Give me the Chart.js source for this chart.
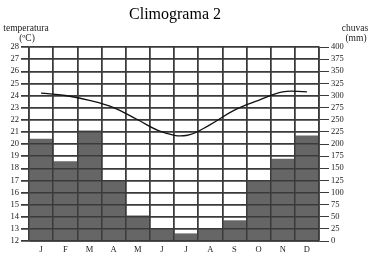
<!DOCTYPE html>
<html>
<head>
<meta charset="utf-8">
<script src="https://cdn.jsdelivr.net/npm/chart.js@4"></script>
<style>
  body { margin: 0; background: #fff; }
  #wrap { width: 370px; height: 257px; }
</style>
</head>
<body>
<div id="wrap"><canvas id="climo"></canvas></div>
<script>
const months = ['J', 'F', 'M', 'A', 'M', 'J', 'J', 'A', 'S', 'O', 'N', 'D'];
const chuvas = [210, 164, 227, 124, 52, 26, 15, 26, 42, 125, 169, 217];   // mm
const temperatura = [24.2, 24.0, 23.6, 23.0, 22.0, 21.0, 20.7, 21.6, 22.8, 23.6, 24.3, 24.3]; // °C
const tempTicks = [12, 28, 1];   // min, max, step
const rainTicks = [0, 400, 25];

const serif = '"Liberation Serif", "Times New Roman", serif';
const gridColor = '#3a3a3a';

// redraw the grid over the bars, like in the printed chart
const gridOnTop = {
    id: 'gridOnTop',
    afterDatasetDraw(chart, args) {
        if (args.index !== 1) return;
        chart.scales.x.drawGrid(chart.chartArea);
        chart.scales.y.drawGrid(chart.chartArea);
    }
};

// title and axis names
const labels = {
    id: 'labels',
    afterDraw(chart) {
        const ctx = chart.ctx;
        ctx.save();
        ctx.fillStyle = '#000';
        ctx.textAlign = 'center';
        ctx.textBaseline = 'middle';
        ctx.font = '16px ' + serif;
        ctx.fillText('Climograma 2', 175, 15);
        ctx.font = '9.5px ' + serif;
        ctx.fillStyle = '#222';
        ctx.fillText('temperatura', 26, 28);
        ctx.fillText('(ºC)', 27, 38);
        ctx.fillText('chuvas', 355, 28);
        ctx.fillText('(mm)', 356, 38);
        ctx.restore();
    }
};

function initializeChart() {
    const ctx = document.getElementById('climo').getContext('2d');
    new Chart(ctx, {
        data: {
            labels: months,
            datasets: [{
                type: 'line',
                data: temperatura,
                yAxisID: 'y',
                borderColor: '#111',
                borderWidth: 1.3,
                pointRadius: 0,
                tension: 0.4,
                order: 0
            }, {
                type: 'bar',
                data: chuvas,
                yAxisID: 'y2',
                backgroundColor: '#666666',
                barPercentage: 1,
                categoryPercentage: 1,
                order: 1
            }]
        },
        plugins: [gridOnTop, labels],
        options: {
            responsive: true,
            maintainAspectRatio: false,
            animation: false,
            layout: { padding: { top: 47, left: 0, right: 0, bottom: 0 } },
            plugins: { legend: { display: false }, tooltip: { enabled: false } },
            scales: {
                x: {
                    afterFit(s) { s.height = 16; },
                    grid: { color: gridColor, lineWidth: 1.5, drawTicks: false },
                    border: { color: gridColor, width: 1.5 },
                    ticks: { color: '#222', font: { family: serif, size: 8.5 }, padding: 4, maxRotation: 0 }
                },
                y: {
                    position: 'left',
                    min: tempTicks[0], max: tempTicks[1],
                    afterFit(s) { s.width = 29; },
                    grid: { color: gridColor, lineWidth: 1.5, tickLength: 8 },
                    border: { color: gridColor, width: 1.5 },
                    ticks: { stepSize: tempTicks[2], autoSkip: false, color: '#222', font: { family: serif, size: 8.5 }, padding: 2 }
                },
                y2: {
                    position: 'right',
                    min: rainTicks[0], max: rainTicks[1],
                    afterFit(s) { s.width = 51; },
                    grid: { drawOnChartArea: false, color: gridColor, lineWidth: 1, tickLength: 10 },
                    border: { color: gridColor, width: 1.5 },
                    ticks: { stepSize: rainTicks[2], autoSkip: false, color: '#222', font: { family: serif, size: 8.5 }, padding: 2 }
                }
            }
        }
    });
}

initializeChart();
</script>
</body>
</html>
